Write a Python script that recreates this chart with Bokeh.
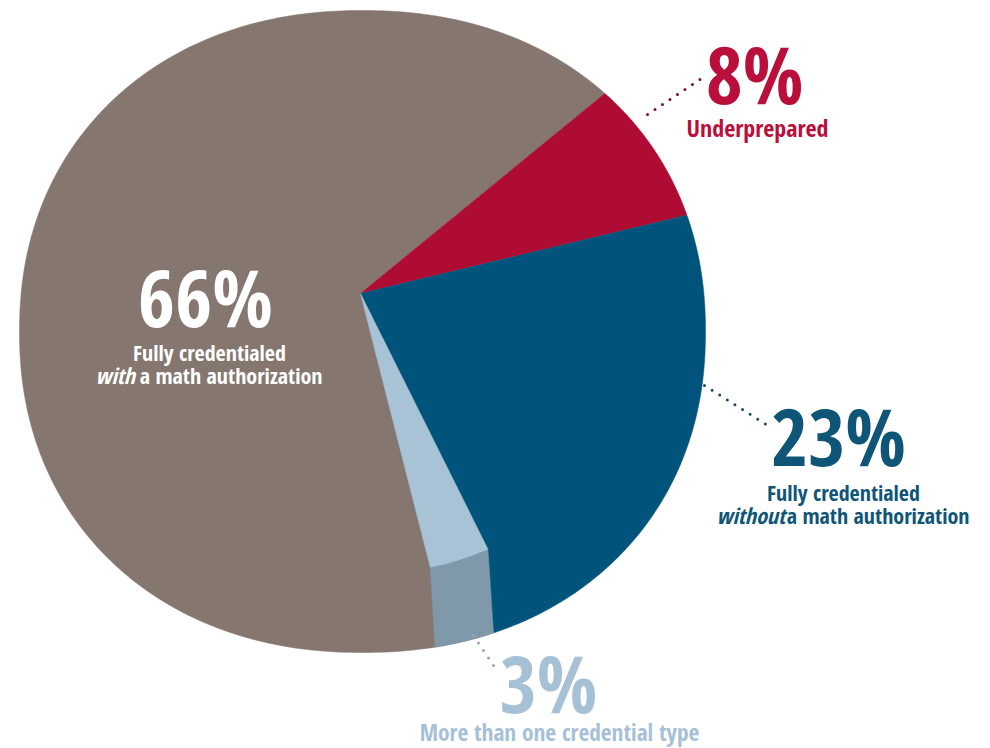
import numpy as np
from bokeh.embed import file_html
from bokeh.models import Range1d
from bokeh.plotting import figure
from bokeh.resources import INLINE
from bokeh.core.properties import value

# ---- data ----
categories = ["Underprepared", "Fully credentialed without a math authorization",
              "More than one credential type", "Fully credentialed with a math authorization"]
shares = [8, 23, 3, 66]
share_labels = ["8%", "23%", "3%", "66%"]
slice_colors = ["#ae0c33", "#00547b", "#a9c3d6", "#85776f"]

# ---- layout ----
APEX = (360.0, 293.0)
CENTER = (362.0, 331.0)
RX, RY = 343.0, 321.0
SQUARENESS = 2.15
START_DEG = 50.7          # clockwise from north
PERSPECTIVE = [0.0, -3.0, -8.8, -7.4, 0.0]   # foreshortening of the pictured disc
WALL_SKEW = (5.1, 2.4)    # the raised slice's wall runs straight down to the rim
WALL_TOP = 0.78           # where that wall starts along the slice
WALL_COLOR = "#7f99aa"
FONT = "Open Sans Condensed"
BASELINE_FIX = 0.40       # of the font size


def rim(theta_deg):
    """Point where a ray from the apex meets the pictured rim."""
    t = np.radians(theta_deg)
    dx, dy = np.sin(t), -np.cos(t)
    lo, hi = 0.0, 600.0
    for _ in range(40):
        r = (lo + hi) / 2
        x = APEX[0] + r * dx - CENTER[0]
        y = APEX[1] + r * dy - CENTER[1]
        if abs(x / RX) ** SQUARENESS + abs(y / RY) ** SQUARENESS < 1:
            lo = r
        else:
            hi = r
    return APEX[0] + lo * dx, APEX[1] + lo * dy


def arc(a, b, n=80):
    return np.array([rim(t) for t in np.linspace(a, b, n)])


edges = START_DEG + np.cumsum([0] + [s * 3.6 for s in shares]) + np.array(PERSPECTIVE)
wall_a = edges[2] + WALL_SKEW[0]
wall_b = edges[3] + WALL_SKEW[1]

p = figure(width=990, height=748, x_range=Range1d(0, 990), y_range=Range1d(748, 0),
           output_backend="svg", toolbar_location=None, min_border=0,
           outline_line_color=None, background_fill_color="white")
p.axis.visible = False
p.grid.visible = False


def sector(pts, col):
    p.patch(np.r_[APEX[0], pts[:, 0]], np.r_[APEX[1], pts[:, 1]], fill_color=col, line_color=col, line_width=0.5)


sector(arc(wall_a, edges[4], 240), slice_colors[3])
sector(arc(edges[0], edges[1]), slice_colors[0])
sector(arc(edges[1], wall_a, 120), slice_colors[1])

# raised light slice: top surface, then its darker wall down to the rim
inner = np.array(APEX) + WALL_TOP * (arc(edges[2], edges[3], 20) - np.array(APEX))
outer = arc(wall_b, wall_a, 20)
p.patch(np.r_[inner[:, 0], outer[:, 0]], np.r_[inner[:, 1], outer[:, 1]],
        fill_color=WALL_COLOR, line_color=WALL_COLOR, line_width=0.5)
sector(inner, slice_colors[2])


def label(x, y, text, size, color, style="bold", align="left"):
    p.text([x], [y - BASELINE_FIX * size], text=[text], text_font=value(FONT), text_font_size=f"{size}px",
           text_font_style=style, text_color=color, text_align=align, text_baseline="alphabetic")


def dots(x0, y0, x1, y1, color):
    p.line([x0, x1], [y0, y1], line_color=color, line_width=3, line_dash="0 9", line_cap="round")


dots(647, 114, 701, 78, "#7a0f2e")
dots(704, 385, 772, 428, "#1d4a60")
dots(473, 635, 495, 668, "#9aa5ad")

label(754, 104, share_labels[0], 80, "#b90f3a", align="center")
label(757, 137, "Underprepared", 24, "#b90f3a", align="center")
label(838, 466, share_labels[1], 80, "#0f5578", align="center")
label(843, 500, "Fully credentialed", 22, "#0f5578", align="center")
label(716, 523, "without", 22, "#0f5578", style="bold italic")
label(969, 523, "a math authorization", 22, "#0f5578", align="right")
label(548, 713, share_labels[2], 80, "#a6c0d6", align="center")
label(559, 741, "More than one credential type", 23.4, "#a6c0d6", align="center")
label(205, 327, share_labels[3], 80, "white", align="center")
label(209, 360, "Fully credentialed", 22, "white", align="center")
label(95, 383, "with", 22, "white", style="bold italic")
label(322, 383, "a math authorization", 22, "white", align="right")

open("out.html", "w").write(file_html(p, INLINE))
